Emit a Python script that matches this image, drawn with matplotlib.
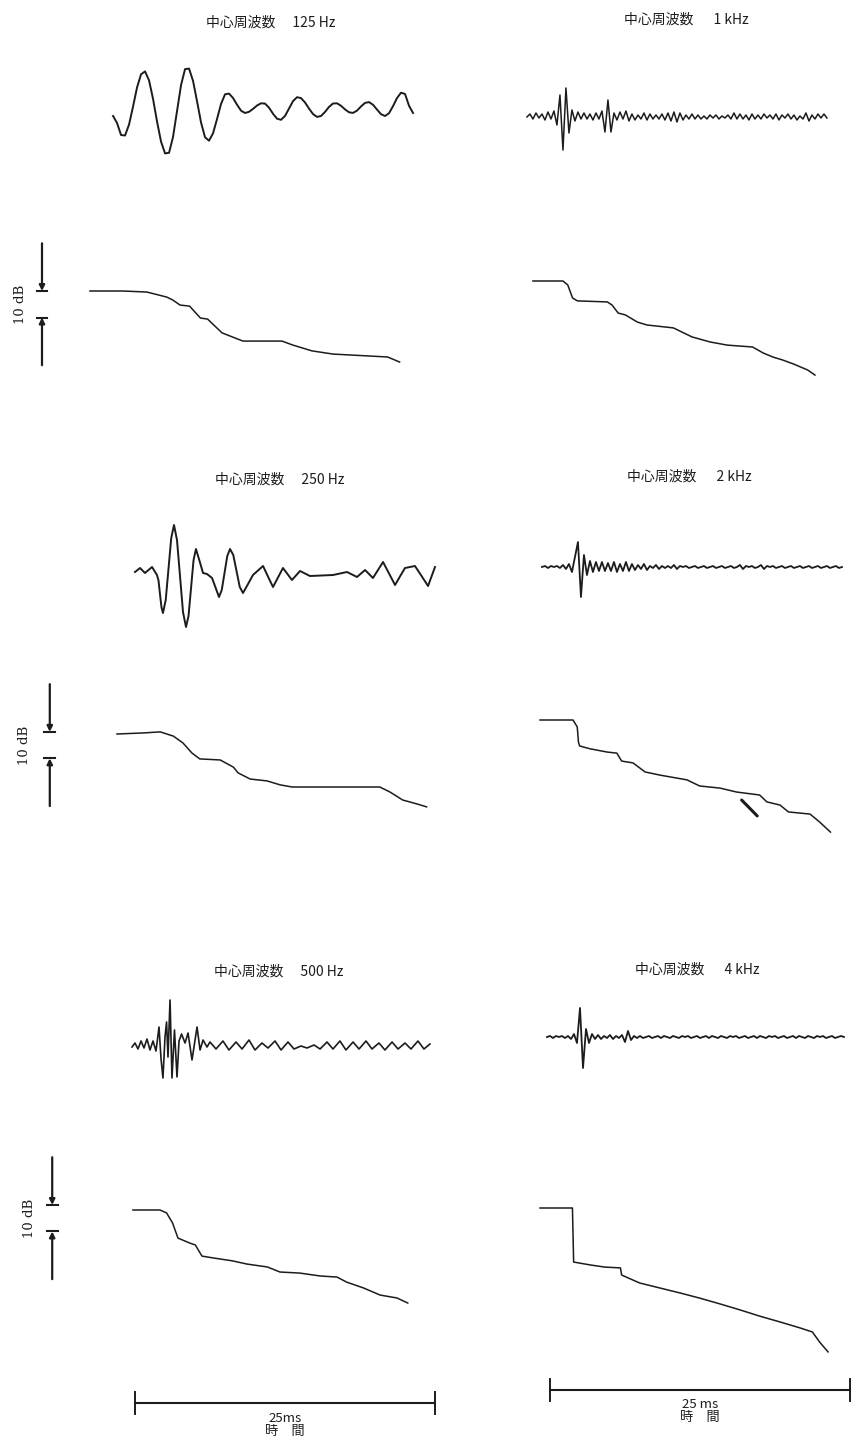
import matplotlib
matplotlib.use("Agg")
import matplotlib.pyplot as plt
import numpy as np

# ----------------------------------------
# data (time in ms from the 25 ms scale bar origin of each column,
# waveform amplitude in arbitrary units, decay level in dB)
# ----------------------------------------

# 125 Hz waveform, uniform samples
wave_125_span = (-1.83, 23.17)
wave_125 = [-7, -14, -26, -26.5, -15.6, 2.5, 21.5, 34.7, 37.6, 28.6,
            10.1, -12.6, -32.6, -44.4, -43.8, -27.9, -2, 23.9, 39.9, 40.4,
            28.1, 7.7, -13.5, -28.3, -31.7, -24.3, -10, 5.1, 14.7, 15.4,
            11, 4.3, -1.7, -4, -2.8, 0.1, 3.5, 5.7, 5.4, 1.3,
            -4.8, -9.7, -10.8, -6.9, 0.5, 7.9, 11.8, 10.9, 6.5, 0.4,
            -5.1, -7.9, -7, -2.9, 2.1, 5.5, 5.7, 3.2, -0.4, -3.3,
            -3.9, -1.6, 2.6, 6.1, 6.9, 4.2, -0.6, -5.2, -7, -4.2,
            2.9, 11, 16.3, 15, 3.2, -4]

# 250 Hz waveform, read points
wave_250_t = [0.0, 0.42, 0.83, 1.42, 1.83, 1.96, 2.08, 2.21, 2.33, 2.56,
              2.79, 3.02, 3.25, 3.5, 3.75, 4.0, 4.25, 4.46, 4.67, 4.88,
              5.08, 5.38, 5.67, 6.0, 6.42, 6.71, 7.0, 7.23, 7.46, 7.69,
              7.92, 8.19, 8.46, 8.73, 9.0, 9.42, 9.83, 10.25, 10.67, 11.08,
              11.5, 12.33, 13.08, 13.75, 14.58, 16.5, 17.67, 18.5, 19.17, 19.83,
              20.67, 21.17, 21.67, 22.08, 22.5, 23.33, 23.88, 24.42, 24.71, 25.0]
wave_250 = [2, 6, 1, 7, -1, -6.5, -20, -33.5, -39, -26,
            5, 36, 49, 34, -2, -38, -53, -42, -14, 14,
            25, 13, 1, 0, -4, -13.5, -23, -16, 1, 18,
            25, 19, 3, -13, -19, -10, -1, 3.5, 8, -2.5,
            -13, 6, -6, 3, -2, -1, 2, -3, 4, -4,
            12, 0.5, -11, -2.5, 6, 8, -2, -12, -2.5, 7]

# 500 Hz waveform, read points
wave_500_t = [-0.25, 0, 0.25, 0.5, 0.75, 1.0, 1.25, 1.5, 1.75, 2.0,
              2.17, 2.33, 2.5, 2.63, 2.75, 2.92, 3.08, 3.29, 3.5, 3.67,
              3.88, 4.17, 4.42, 4.75, 5.17, 5.42, 5.67, 6.0,
              6.25, 6.75, 7.33, 7.83, 8.42, 8.92, 9.5, 10.0, 10.58, 11.08,
              11.67, 12.17, 12.75, 13.25, 13.83, 14.33, 14.92, 15.42, 16.0, 16.5,
              17.08, 17.58, 18.17, 18.67, 19.25, 19.75, 20.33, 20.83, 21.42, 21.92,
              22.5, 23.0, 23.58, 24.08, 24.58]
wave_500 = [0, 4, -2, 6, -1, 8, -3, 6, -4, 20,
            -12, -31, 10, 25, -10, 47, -31, 17, -30, 6,
            13, 4, 14, -13, 20, -3, 7, 0,
            5, -2, 6, -3, 5, -2, 7, -3, 4, -1,
            6, -3, 5, -2, 1, -1, 2, -2, 5, -2,
            6, -3, 5, -2, 6, -2, 4, -3, 5, -2,
            4, -2, 6, -2, 3]

# 1 kHz waveform, uniform samples
wave_1k_span = (-1.92, 23.08)
wave_1k = [0, 3, -2, 4, -1, 3, -3, 5, -2, 6,
           -8, 22, -33, 29, -16, 7, -4, 5, -2, 4,
           -2, 3, -3, 4, -2, 6, -15, 17, -15, 4,
           -3, 5, -2, 6, -4, 3, -3, 2, -2, 4,
           -3, 3, -2, 2, -2, 3, -3, 4, -4, 5,
           -5, 4, -3, 2, -2, 3, -2, 2, -2, 1,
           -2, 2, -1, 2, -2, 1, -1, 2, -2, 4,
           -2, 3, -2, 2, -3, 3, -2, 2, -2, 3,
           -1, 2, -2, 3, -3, 2, -1, 3, -2, 2,
           -3, 1, -2, 4, -4, 2, -2, 3, -1, 3,
           -1]

# 2 kHz waveform, uniform samples
wave_2k_span = (-0.67, 24.33)
wave_2k = [0, 1, -1, 1, 0, 1, -1, 2, -2, 3,
           -5, 10, 25, -30, 12, -8, 6, -5, 5, -4,
           5, -4, 4, -4, 5, -5, 3, -4, 5, -4,
           3, -3, 2, -2, 3, -3, 1, -1, 2, -2,
           1, -1, 1, -1, 2, -2, 1, 0, 1, -1,
           0, 1, -1, 0, 1, -1, 0, 1, -1, 0,
           1, -1, 0, 1, -1, 0, 2, -2, 1, 0,
           1, -1, 0, 2, -2, 1, 0, 1, -1, 0,
           1, -1, 0, 1, -1, 0, 1, -1, 0, 1,
           -1, 0, 1, -1, 0, 1, -1, 0, 1, -1,
           0]

# 4 kHz waveform, uniform samples
wave_4k_span = (-0.25, 24.5)
wave_4k = [0, 1, -1, 1, 0, 1, -1, 1, -2, 3,
           -6, 29, -31, 8, -6, 3, -2, 2, -2, 1,
           -1, 2, -2, 1, -1, 2, -5, 6, -3, 1,
           -1, 1, -1, 0, 1, -1, 0, 1, -1, 1,
           0, -1, 1, 0, -1, 1, 0, 1, -1, 0,
           1, -1, 0, 1, -1, 1, 0, -1, 1, 0,
           -1, 1, 0, 1, -1, 0, 1, -1, 0, 1,
           -1, 1, 0, -1, 1, 0, 1, -1, 0, 1,
           -1, 0, 1, -1, 1, 0, -1, 1, 0, -1,
           1, 0, 1, -1, 0, 1, -1, 0, 1, 0]

# decay curves (ms, dB)
decay_125_t = [-3.75, -1.0, 1.0, 2.65, 3.15, 3.75, 4.55, 5.45, 6.05, 7.25,
               8.15, 9.0, 12.25, 13.15, 14.75, 16.5, 21.05, 22.05]
decay_125 = [0, 0, -0.4, -2.3, -3.4, -5.3, -5.7, -10.2, -10.6, -15.8,
             -17.4, -18.9, -18.9, -20.4, -22.6, -23.8, -24.9, -26.8]

decay_250_t = [-1.5, 0.7, 2.1, 3.2, 4.0, 4.75, 5.4, 7.1, 8.2, 8.6,
               9.6, 11.0, 12.1, 13.1, 16.5, 20.4, 21.25, 22.3, 23.5, 24.3]
decay_250 = [0, 0.4, 0.8, -0.8, -3.4, -7.2, -9.4, -9.8, -12.5, -14.7,
             -17.0, -17.7, -19.2, -20.0, -20.0, -20.0, -21.9, -24.9, -26.4, -27.5]

decay_500_t = [-0.17, 2.08, 2.63, 3.13, 3.58, 4.58, 5.03, 5.58, 6.53, 8.13,
               9.33, 11.03, 12.08, 13.73, 15.43, 16.83, 17.63, 19.03, 20.43, 21.83, 22.73]
decay_500 = [0, 0, -1.1, -4.9, -10.6, -12.5, -13.2, -17.4, -18.1, -19.2,
             -20.4, -21.5, -23.4, -23.8, -24.9, -25.3, -27.2, -29.4, -32.1, -33.2, -35.1]

decay_1k_t = [-1.42, 1.08, 1.48, 1.88, 2.28, 4.78, 5.18, 5.68, 6.28, 7.28,
              8.08, 10.28, 10.83, 11.83, 13.33, 14.78, 16.88, 17.78, 18.58, 19.38,
              20.28, 21.48, 22.08]
decay_1k = [0, 0, -1.5, -6.4, -7.5, -7.9, -9.1, -12.1, -12.8, -15.5,
            -16.6, -17.7, -18.9, -21.1, -23.0, -24.2, -24.9, -27.2, -28.7, -29.8,
            -31.3, -33.6, -35.5]

decay_2k_t = [-0.83, 1.92, 2.27, 2.37, 2.47, 3.37, 4.77, 5.57, 5.97, 6.92,
              7.92, 9.17, 11.42, 12.47, 14.17, 15.57, 17.47, 18.07, 19.17, 19.87,
              21.67, 22.47, 23.37]
decay_2k = [0, 0, -2.6, -8.3, -9.8, -10.9, -12.1, -12.5, -15.5, -16.2,
            -19.6, -20.8, -22.6, -24.9, -25.7, -27.2, -28.3, -30.9, -32.1, -34.7,
            -35.5, -38.5, -42.3]
mark_2k_t = [15.97, 17.27]
mark_2k = [-30.2, -36.2]

decay_4k_t = [-0.83, 1.87, 1.92, 1.97, 3.37, 4.57, 5.87, 5.97, 7.47, 9.17,
              10.87, 12.47, 14.17, 15.87, 17.47, 19.17, 20.87, 21.87, 22.47, 23.17]
decay_4k = [0, 0, -10.2, -20.4, -21.5, -22.3, -22.6, -25.3, -28.3, -30.2,
            -32.1, -34.0, -36.2, -38.5, -40.8, -43.0, -45.3, -46.8, -50.6, -54.3]

titles = ["中心周波数　 125 Hz", "中心周波数　  1 kHz",
          "中心周波数　 250 Hz", "中心周波数　  2 kHz",
          "中心周波数　 500 Hz", "中心周波数　  4 kHz"]
scale_db = 10
scale_top = [0.0, 0.8, 1.9]
bar_ms = 25
bar_labels = ["25ms", "25 ms"]
axis_label = "時　間"

# ----------------------------------------
# layout (pixels on a 856 x 1439 page)
# ----------------------------------------
W, H = 856, 1439
PX_PER_MS = 12.0
PX_PER_DB = 2.65
COL_SPAN = [(0, 455), (470, 856)]
COL_ORIGIN = [135, 550]
WAVE_BASE = [[109, 117], [574, 567], [1047, 1037]]
DECAY_TOP = [[291, 281], [734, 720], [1210, 1208]]
TITLE_POS = [[(271, 23), (686, 20)], [(280, 480), (689, 477)], [(279, 972), (697, 970)]]
SCALE_X = [-7.75, -7.1, -6.9]
SCALE_TEXT_X = [-9.5, -9.2, -8.8]
BAR_Y = [1403, 1390]
INK = "#1c1c1c"
JP = ["Noto Sans CJK JP", "DejaVu Sans"]


def panel_axes(fig, col, top, bottom, anchor, px_per_unit):
    x0, x1 = COL_SPAN[col]
    ax = fig.add_axes([x0 / W, 1 - bottom / H, (x1 - x0) / W, (bottom - top) / H])
    ax.set_xlim((x0 - COL_ORIGIN[col]) / PX_PER_MS, (x1 - COL_ORIGIN[col]) / PX_PER_MS)
    ax.set_ylim(-(bottom - anchor) / px_per_unit, (anchor - top) / px_per_unit)
    ax.axis("off")
    return ax


fig = plt.figure(figsize=(W / 100, H / 100), dpi=100)
fig.patch.set_facecolor("white")

waves = [
    [(np.linspace(*wave_125_span, len(wave_125)), wave_125, 1.4),
     (np.linspace(*wave_1k_span, len(wave_1k)), wave_1k, 1.1)],
    [(wave_250_t, wave_250, 1.4),
     (np.linspace(*wave_2k_span, len(wave_2k)), wave_2k, 1.3)],
    [(wave_500_t, wave_500, 1.2),
     (np.linspace(*wave_4k_span, len(wave_4k)), wave_4k, 1.3)],
]
decays = [
    [(decay_125_t, decay_125), (decay_1k_t, decay_1k)],
    [(decay_250_t, decay_250), (decay_2k_t, decay_2k)],
    [(decay_500_t, decay_500), (decay_4k_t, decay_4k)],
]

for r in range(3):
    for c in range(2):
        # title
        tx, ty = TITLE_POS[r][c]
        fig.text(tx / W, 1 - ty / H, titles[r * 2 + c], family=JP,
                 fontsize=10, ha="center", va="center", color=INK)

        # waveform
        base = WAVE_BASE[r][c]
        ax = panel_axes(fig, c, base - 70, base + 70, base, 1.0)
        t, v, lw = waves[r][c]
        ax.plot(t, v, color=INK, lw=lw, solid_joinstyle="round")

        # decay curve
        top = DECAY_TOP[r][c]
        ax = panel_axes(fig, c, top - 70, top + 170, top, PX_PER_DB)
        t, v = decays[r][c]
        ax.plot(t, v, color=INK, lw=1.1, solid_joinstyle="round")
        if r == 1 and c == 1:
            ax.plot(mark_2k_t, mark_2k, color=INK, lw=2.2, solid_capstyle="round")

        # 10 dB scale on the left column
        if c == 0:
            x = SCALE_X[r]
            hi = scale_top[r]
            lo = hi - scale_db
            arrow = dict(arrowstyle="-|>", lw=1.6, color=INK, mutation_scale=8,
                         shrinkA=0, shrinkB=0)
            ax.annotate("", xy=(x, hi), xytext=(x, hi + 18), arrowprops=arrow)
            ax.annotate("", xy=(x, lo), xytext=(x, lo - 18), arrowprops=arrow)
            ax.plot([x - 0.45, x + 0.45], [hi, hi], color=INK, lw=1.5)
            ax.plot([x - 0.45, x + 0.45], [lo, lo], color=INK, lw=1.5)
            ax.text(SCALE_TEXT_X[r], (hi + lo) / 2, "10 dB", rotation=90,
                    family="DejaVu Serif", fontsize=9.5, ha="center", va="center",
                    color=INK)

# 25 ms time bars
for c in range(2):
    y = BAR_Y[c]
    ax = panel_axes(fig, c, y - 30, H, y, 1.0)
    ax.plot([0, bar_ms], [0, 0], color=INK, lw=1.5)
    ax.plot([0, 0], [-11, 11], color=INK, lw=1.4)
    ax.plot([bar_ms, bar_ms], [-11, 11], color=INK, lw=1.4)
    ax.text(bar_ms / 2, -15, bar_labels[c], family=JP, fontsize=9.5,
            ha="center", va="center", color=INK)
    ax.text(bar_ms / 2, -28, axis_label, family=JP, fontsize=9.5,
            ha="center", va="center", color=INK)

fig.savefig("out.png", dpi=100, facecolor="white")
